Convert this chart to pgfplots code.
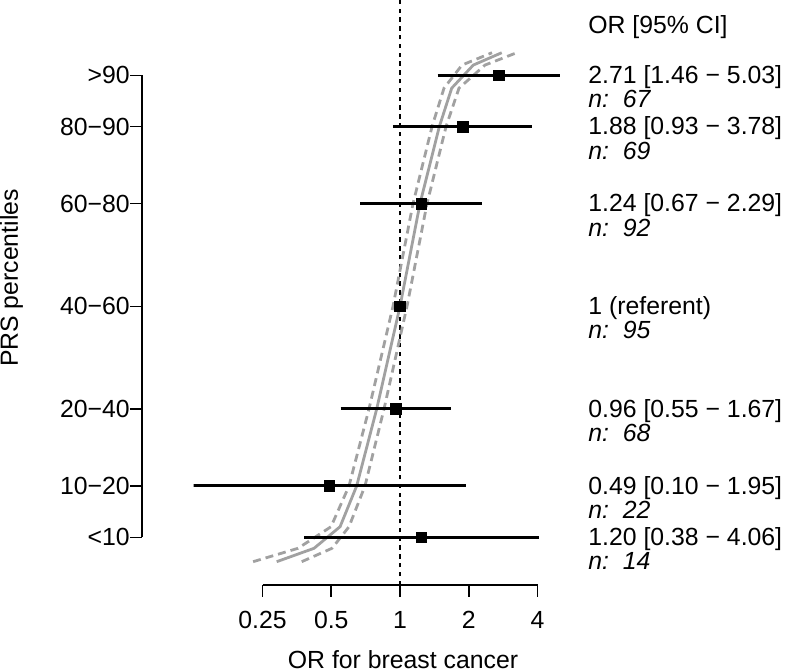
\documentclass[border=0pt]{standalone}
\usepackage{fontspec}
\setmainfont{Liberation Sans}
\usepackage{pgfplots}
\pgfplotsset{compat=1.18}
\definecolor{cgray}{gray}{0.63}
\begin{document}
\fontsize{12.4}{14.9}\selectfont
\begin{tikzpicture}
\begin{axis}[
  at={(0,0)}, anchor=south west,
  scale only axis, width=197.125pt, height=292.5pt,
  xmode=log, log basis x=2,
  xmin=0.125, xmax=6.655, ymin=-4.292, ymax=109.67,
  axis line style={draw=none},
  tick align=outside, major tick length=5.8pt,
  tick style={black, line width=0.8pt},
  xtick pos=bottom, ytick pos=left,
  xminorticks=false, yminorticks=false,
  xtick={0.25,0.5,1,2,4}, xticklabels={0.25,0.5,1,2,4},
  ytick={5,15,30,50,70,85,95},
  yticklabels={<10,10−20,20−40,40−60,60−80,80−90,>90},
  ytick style={xshift=-26pt},
  yticklabel style={xshift=-26pt, inner sep=0pt, anchor=east},
  xticklabel style={inner sep=0pt, anchor=north, yshift=-7.2pt},
  clip mode=individual,
  xlabel={OR for breast cancer}, ylabel={PRS percentiles},
  every axis x label/.style={at={(axis description cs:0.5308,-0.1422)}, anchor=base},
  every axis y label/.style={at={(axis description cs:-0.4458,0.5248)}, rotate=90, anchor=base},
  /pgf/number format/assume math mode=true,
]
% reference line at OR = 1
\addplot[black, line width=0.65pt, dash pattern=on 2.2pt off 2.2pt] coordinates {(1,-4.292) (1,109.67)};
% fitted curve and its confidence band
\addplot[cgray, line width=1.4pt] coordinates {(0.2885,0.25) (0.4204,2.86) (0.5464,7.06) (0.6460,15) (0.7907,30) (1,50) (1.2234,70) (1.4862,85) (1.6842,92.5) (2.0939,97) (2.7884,99.4)};
\addplot[cgray, line width=1.4pt, dash pattern=on 4pt off 2.5pt] coordinates {(0.2274,0.25) (0.3577,2.86) (0.4987,7.06) (0.5980,15) (0.7314,30) (0.9318,50) (1.1401,70) (1.3809,85) (1.5583,92.5) (1.8686,97) (2.5285,99.4)};
\addplot[cgray, line width=1.4pt, dash pattern=on 4pt off 2.5pt] coordinates {(0.3712,0.25) (0.5038,2.86) (0.5980,7.06) (0.7024,15) (0.8511,30) (1.0731,50) (1.3130,70) (1.5903,85) (1.8129,92.5) (2.3562,97) (3.2434,99.4)};
% confidence intervals
\addplot[black, line width=1.5pt] coordinates {(1.46,95) (5.03,95)};
\addplot[black, line width=1.5pt] coordinates {(0.93,85) (3.78,85)};
\addplot[black, line width=1.5pt] coordinates {(0.67,70) (2.29,70)};
\addplot[black, line width=1.5pt] coordinates {(0.55,30) (1.67,30)};
\addplot[black, line width=1.5pt] coordinates {(0.10,15) (1.95,15)};
\addplot[black, line width=1.5pt] coordinates {(0.38,5) (4.06,5)};
% point estimates
\addplot[only marks, mark=square*, mark size=2.65pt, black] coordinates {(2.71,95) (1.88,85) (1.24,70) (1,50) (0.96,30) (0.49,15) (1.24,5)};
% axis lines (spanning the tick range only)
\draw[line width=0.8pt] (axis cs:0.25,-4.292) -- (axis cs:4,-4.292);
\draw[line width=0.8pt] ([xshift=-26pt]axis cs:0.125,5) -- ([xshift=-26pt]axis cs:0.125,95);
% right-hand text
\node[anchor=base west, inner sep=0pt] at (axis cs:6.655,103.18) {OR [95\% CI]};
\node[anchor=base west, inner sep=0pt] at ([yshift=-4.15pt]axis cs:6.655,95) {2.71 [1.46 − 5.03]};
\node[anchor=base west, inner sep=0pt] at ([yshift=-16.25pt]axis cs:6.655,95) {\itshape n:\ \ 67};
\node[anchor=base west, inner sep=0pt] at ([yshift=-4.15pt]axis cs:6.655,85) {1.88 [0.93 − 3.78]};
\node[anchor=base west, inner sep=0pt] at ([yshift=-16.25pt]axis cs:6.655,85) {\itshape n:\ \ 69};
\node[anchor=base west, inner sep=0pt] at ([yshift=-4.15pt]axis cs:6.655,70) {1.24 [0.67 − 2.29]};
\node[anchor=base west, inner sep=0pt] at ([yshift=-16.25pt]axis cs:6.655,70) {\itshape n:\ \ 92};
\node[anchor=base west, inner sep=0pt] at ([yshift=-4.15pt]axis cs:6.655,50) {1 (referent)};
\node[anchor=base west, inner sep=0pt] at ([yshift=-16.25pt]axis cs:6.655,50) {\itshape n:\ \ 95};
\node[anchor=base west, inner sep=0pt] at ([yshift=-4.15pt]axis cs:6.655,30) {0.96 [0.55 − 1.67]};
\node[anchor=base west, inner sep=0pt] at ([yshift=-16.25pt]axis cs:6.655,30) {\itshape n:\ \ 68};
\node[anchor=base west, inner sep=0pt] at ([yshift=-4.15pt]axis cs:6.655,15) {0.49 [0.10 − 1.95]};
\node[anchor=base west, inner sep=0pt] at ([yshift=-16.25pt]axis cs:6.655,15) {\itshape n:\ \ 22};
\node[anchor=base west, inner sep=0pt] at ([yshift=-4.15pt]axis cs:6.655,5) {1.20 [0.38 − 4.06]};
\node[anchor=base west, inner sep=0pt] at ([yshift=-16.25pt]axis cs:6.655,5) {\itshape n:\ \ 14};
\end{axis}
\pgfresetboundingbox
\path (-96.875pt,-43pt) rectangle (296.125pt,292.5pt);
\end{tikzpicture}
\end{document}
